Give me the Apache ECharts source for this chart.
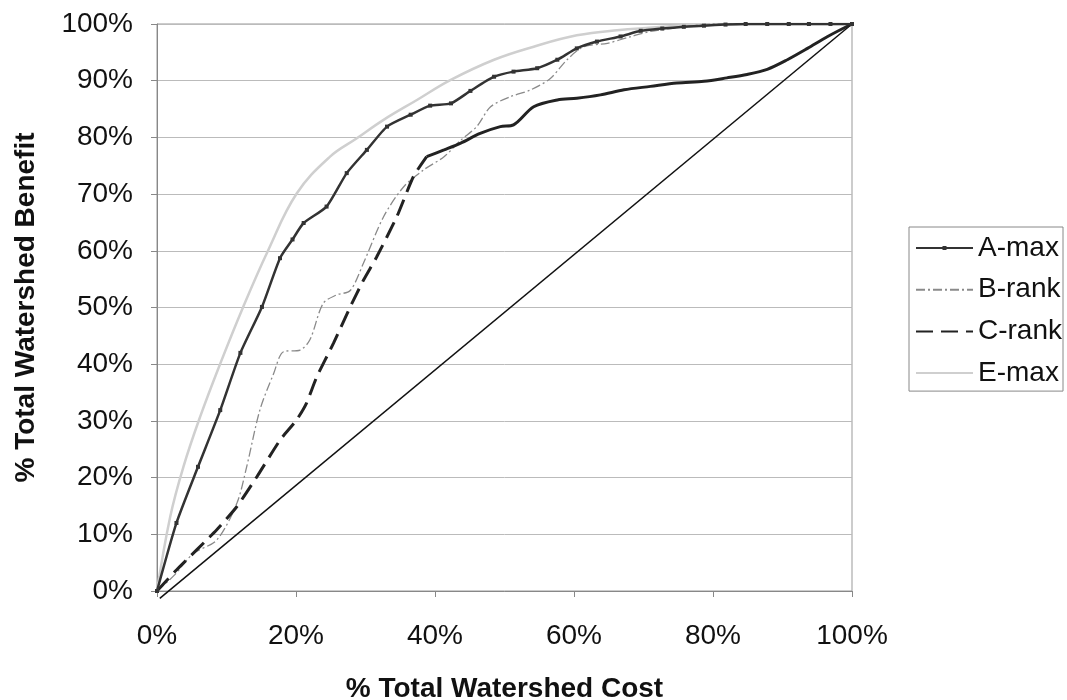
<!DOCTYPE html>
<html>
<head>
<meta charset="utf-8">
<script src="https://cdn.jsdelivr.net/npm/echarts@6/dist/echarts.min.js"></script>
<style>
html,body{margin:0;padding:0;background:#fff;}
#chart{width:1067px;height:700px;}
</style>
</head>
<body>
<div id="chart"></div>
<script>
// Data (x = % total watershed cost, y = % total watershed benefit)
const seriesNames = ['A-max', 'B-rank', 'C-rank', 'E-max'];
const xTicks = [0, 20, 40, 60, 80, 100];
const yTicks = [0, 10, 20, 30, 40, 50, 60, 70, 80, 90, 100];

const aMax = [
  [0,0],[2.8,12],[5.9,21.9],[9.1,31.9],[12,42],[15.1,50.1],[17.7,58.7],[19.5,62],
  [21.1,64.9],[24.4,67.8],[27.3,73.7],[30.2,77.8],[33.1,81.9],[36.5,84],[39.3,85.6],
  [42.3,86],[45.1,88.2],[48.5,90.7],[51.3,91.6],[54.7,92.2],[57.6,93.7],[60.4,95.7],
  [63.3,96.9],[66.7,97.8],[69.6,98.8],[72.7,99.2],[75.8,99.5],[78.7,99.7],[81.8,99.9],
  [84.7,100],[87.8,100],[90.9,100],[93.8,100],[96.9,100],[100,100]
];
const bRank = [
  [0,0],[2.5,2.8],[5.2,6.6],[8.6,9.0],[11.5,15.5],[12.9,21.9],[14.8,31.9],[16.8,38.4],
  [18.2,42.2],[20.6,42.5],[22,44.3],[23.9,50.7],[25.8,52.2],[27.8,53],[29.7,57.8],
  [32.6,66],[35.5,71.3],[38.4,74.3],[41.3,76.6],[43.7,79.5],[46,81.9],[48,85.4],
  [50.9,87.2],[53.8,88.4],[56.6,90.4],[59,93.7],[61.4,96],[64.8,96.6],[68.2,97.8],
  [71,98.7],[73.9,99.2],[77,99.7],[80,100],[100,100]
];
// C-rank: sparse (dashed-looking) first part, dense (solid-looking) remainder
const cRankLow = [
  [0,0],[2.8,3.7],[8.6,10.8],[11.5,14.9],[14.4,20.2],[17.7,26.6],[20.1,30.2],[21.5,33.1],
  [23,37.8],[25.4,43.7],[27.8,50.1],[29.7,54.8],[31.6,58.9],[34.5,66],[36.9,73.1],[38.8,76.6]
];
const cRankHigh = [
  [38.8,76.6],[41.3,77.8],[43.7,79],[46.5,80.7],[49.4,81.9],[51.3,82.2],[54.2,85.4],
  [57.6,86.6],[60.4,86.9],[63.8,87.5],[67.2,88.4],[71,89],[74.8,89.6],[78.7,89.9],
  [82,90.5],[84.9,91.1],[87.8,92],[90.7,93.7],[93.6,95.7],[96.5,97.8],[100,100]
];
const eMax = [
  [0,0],[1.9,13.1],[3.8,21.9],[6.2,30.7],[9.1,40.1],[12.4,50.1],[16,60.1],[20.1,70.1],
  [24.9,76.6],[28.7,79.8],[32.6,83.1],[37.4,86.6],[42.2,90.1],[48.5,93.7],[54.2,96],
  [60.4,98],[66.2,98.9],[75,99.7],[80,100],[100,100]
];
const diagonal = [[0.4,-1.3],[100,100]];

const FONT = '"Liberation Sans", Arial, sans-serif';
const chart = echarts.init(document.getElementById('chart'), null, {renderer: 'canvas'});
chart.setOption({
  animation: false,
  backgroundColor: '#fff',
  grid: {left: 157, right: 215, top: 24, bottom: 109, show: true, borderColor: '#999', borderWidth: 1,
         outerBoundsMode: 'none', containLabel: false},
  xAxis: {
    type: 'value', min: xTicks[0], max: xTicks[xTicks.length - 1], interval: 20,
    name: '% Total Watershed Cost', nameLocation: 'middle', nameGap: 84,
    nameTextStyle: {fontFamily: FONT, fontSize: 28, fontWeight: 'bold', color: '#111'},
    axisLine: {lineStyle: {color: '#888', width: 1}},
    axisTick: {show: true, length: 6, lineStyle: {color: '#888'}},
    axisLabel: {formatter: '{value}%', fontFamily: FONT, fontSize: 28, color: '#111', margin: 31},
    splitLine: {show: false}
  },
  yAxis: {
    type: 'value', min: yTicks[0], max: yTicks[yTicks.length - 1], interval: 10,
    name: '% Total Watershed Benefit', nameLocation: 'middle', nameGap: 117,
    nameTextStyle: {fontFamily: FONT, fontSize: 28, fontWeight: 'bold', color: '#111'},
    axisLine: {show: true, lineStyle: {color: '#888', width: 1}},
    axisTick: {show: true, length: 6, lineStyle: {color: '#888'}},
    axisLabel: {formatter: '{value}%', fontFamily: FONT, fontSize: 28, color: '#111', margin: 24},
    splitLine: {show: true, lineStyle: {color: '#bbb', width: 1}}
  },
  legend: {
    data: [
      {name: 'A-max'},
      {name: 'B-rank', itemStyle: {opacity: 0}},
      {name: 'C-rank', itemStyle: {opacity: 0}},
      {name: 'E-max', itemStyle: {opacity: 0}}
    ],
    orient: 'vertical', left: 909, top: 227,
    itemWidth: 57, itemHeight: 5, itemGap: 13.7,
    padding: [7, 1, 4, 6],
    borderColor: '#888', borderWidth: 1,
    selectedMode: false,
    textStyle: {fontFamily: FONT, fontSize: 28, lineHeight: 28, color: '#111'}
  },
  series: [
    {
      name: 'diagonal', type: 'line', data: diagonal, symbol: 'none', clip: false,
      lineStyle: {color: '#111', width: 1.5}, z: 1
    },
    {
      name: 'E-max', type: 'line', data: eMax, symbol: 'none', smooth: 0.4,
      lineStyle: {color: '#cfcfcf', width: 2.5}, itemStyle: {color: '#cfcfcf'}, z: 2
    },
    {
      name: 'B-rank', type: 'line', data: bRank, symbol: 'none', smooth: 0.3,
      lineStyle: {color: '#8a8a8a', width: 1.3, type: [9, 3, 2, 3]}, itemStyle: {color: '#8a8a8a'}, z: 3
    },
    {
      name: 'C-rank', type: 'line', data: cRankLow, symbol: 'none', smooth: 0.2,
      lineStyle: {color: '#222', width: 3, type: [17, 8]}, itemStyle: {color: '#222'}, z: 4
    },
    {
      name: 'C-rank-cont', type: 'line', data: cRankHigh, symbol: 'none', smooth: 0.3,
      lineStyle: {color: '#222', width: 3}, itemStyle: {color: '#222'}, z: 4
    },
    {
      name: 'A-max', type: 'line', data: aMax, symbol: 'rect', symbolSize: 4, smooth: 0.2,
      lineStyle: {color: '#333', width: 2.5}, itemStyle: {color: '#333'}, z: 5
    }
  ]
});
</script>
</body>
</html>
